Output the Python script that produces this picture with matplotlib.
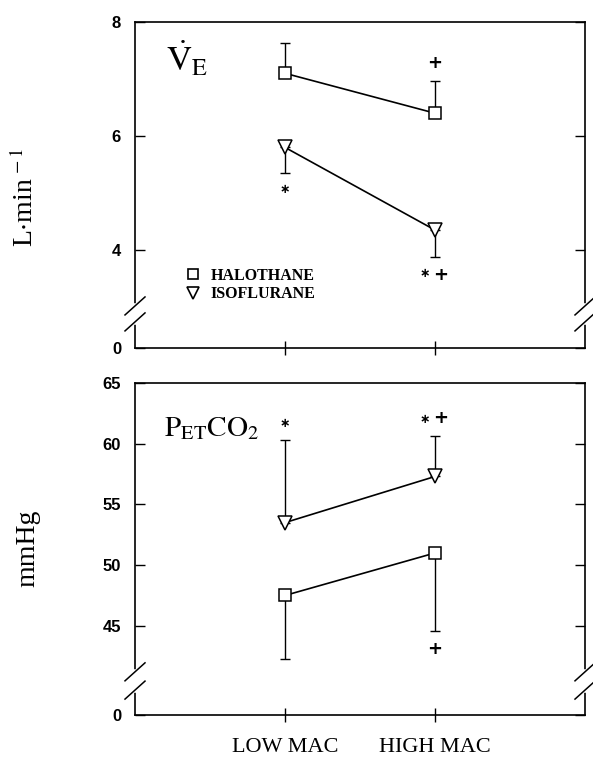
import numpy as np
import matplotlib
matplotlib.use("Agg")
import matplotlib.pyplot as plt

plt.rcParams['mathtext.fontset'] = 'stix'
plt.rcParams['font.family'] = 'Liberation Serif'

# data
x_pos = [1, 2]
x_labels = ['LOW MAC', 'HIGH MAC']

ve_halo = [7.1, 6.4]
ve_halo_sd = [0.53, 0.56]
ve_iso = [5.8, 4.35]
ve_iso_sd = [0.45, 0.47]
ve_halo_sig = ['', '+']
ve_iso_sig = ['*', '*+']

pet_halo = [47.5, 51.0]
pet_halo_sd = [5.2, 6.4]
pet_iso = [53.5, 57.3]
pet_iso_sd = [6.8, 3.3]
pet_halo_sig = ['', '+']
pet_iso_sig = ['*', '*+']

ve_ticks = [4, 6, 8]
pet_ticks = [45, 50, 55, 60, 65]

W, H = 593, 774
fig = plt.figure(figsize=(W/100, H/100), dpi=100)
ax1 = fig.add_axes([135/W, 1-348/H, 450/W, 326/H])
ax2 = fig.add_axes([135/W, 1-715/H, 450/W, 332/H])

tickfont = dict(family='Liberation Sans', weight='bold', size=12)


def sig_marks(ax, x, y, s, up):
    # one symbol -> centred on the bar, two -> star left, plus right
    offs = [0] if len(s) == 1 else [-7, 4]
    for ch, dx in zip(s, offs):
        if ch == '*':
            ax.annotate('\u2217', (x, y), xytext=(dx, 12 if up else -12),
                        textcoords='offset points', ha='center', va='center',
                        fontsize=9, fontweight='bold', family='DejaVu Sans')
        else:
            ax.annotate('+', (x, y), xytext=(dx, 13 if up else -13),
                        textcoords='offset points', ha='center', va='center',
                        fontsize=13, fontweight='bold', family='DejaVu Sans')


def series(ax, x, y, sd, up, marker, ms, sig):
    ax.plot(x, y, color='black', lw=1.2, zorder=2)
    if up:
        err = [np.zeros(len(sd)), sd]
    else:
        err = [sd, np.zeros(len(sd))]
    ax.errorbar(x, y, yerr=err, fmt='none', ecolor='black', elinewidth=1,
                capsize=3.5, capthick=1, zorder=1)
    ax.plot(x, y, ls='none', marker=marker, ms=ms, mfc='white', mec='black',
            mew=1.1, zorder=3)
    for xi, yi, si, s in zip(x, y, sd, sig):
        if s:
            sig_marks(ax, xi, yi + si if up else yi - si, s, up)


def style(ax, ylo, yhi, ticks):
    ax.set_xlim(0, 3)
    ax.set_ylim(ylo, yhi)
    ax.set_xticks(x_pos)
    ax.set_xticklabels([])
    ax.set_yticks([ylo] + ticks)
    ax.set_yticklabels(['0'] + [str(t) for t in ticks], fontdict=tickfont)
    ax.tick_params(axis='x', direction='inout', length=10, width=1, top=False)
    ax.tick_params(axis='y', direction='in', length=7, width=1, right=True, pad=10)
    for sp in ax.spines.values():
        sp.set_linewidth(1.2)


def axis_break(ax, yc1, yc2, pxw, pxh):
    dx = 10 / pxw
    dy = 9 / pxh
    for xs in (0, 1):
        ax.plot([xs, xs], [yc1, yc2], transform=ax.transAxes, color='white',
                lw=4, clip_on=False, zorder=5)
        for yc in (yc1, yc2):
            ax.plot([xs - dx, xs + dx], [yc - dy, yc + dy], transform=ax.transAxes,
                    color='black', lw=1.1, clip_on=False, zorder=6)


# top panel: minute ventilation
series(ax1, x_pos, ve_halo, ve_halo_sd, True, 's', 8, ve_halo_sig)
series(ax1, x_pos, ve_iso, ve_iso_sd, False, 'v', 10, ve_iso_sig)
style(ax1, 8 - 326/57, 8, ve_ticks)
axis_break(ax1, 0.080, 0.129, 450, 326)
ax1.text(0.07, 0.885, r'$\dot{\mathrm{V}}_{\mathrm{E}}$', transform=ax1.transAxes,
         fontsize=25, va='center', ha='left')
h1 = ax1.plot([], [], ls='none', marker='s', ms=7, mfc='white', mec='black', mew=1.2)[0]
h2 = ax1.plot([], [], ls='none', marker='v', ms=8, mfc='white', mec='black', mew=1.2)[0]
ax1.legend([h1, h2], ['HALOTHANE', 'ISOFLURANE'], loc='upper left',
           bbox_to_anchor=(0.08, 0.29), frameon=False, handlelength=1,
           handletextpad=0.6, labelspacing=0.15,
           prop=dict(family='Liberation Serif', weight='bold', size=11.5))

# bottom panel: end-tidal CO2
series(ax2, x_pos, pet_halo, pet_halo_sd, False, 's', 8, pet_halo_sig)
series(ax2, x_pos, pet_iso, pet_iso_sd, True, 'v', 10, pet_iso_sig)
style(ax2, 65 - 332/12.14, 65, pet_ticks)
axis_break(ax2, 0.075, 0.130, 450, 332)
ax2.text(0.065, 0.862, r'$\mathrm{P_{ET}CO_2}$', transform=ax2.transAxes,
         fontsize=21, va='center', ha='left')

fig.text(25/W, 1-197/H, r'L$\cdot$min$^{\,-1}$', rotation=90, ha='center',
         va='center', fontsize=20)
fig.text(28/W, 1-548/H, 'mmHg', rotation=90, ha='center', va='center', fontsize=20)
for xp, lab in zip(x_pos, x_labels):
    fig.text((135 + 150*xp)/W, 1-748/H, lab, ha='center', va='center', fontsize=16)

fig.savefig('out.png', dpi=100)
